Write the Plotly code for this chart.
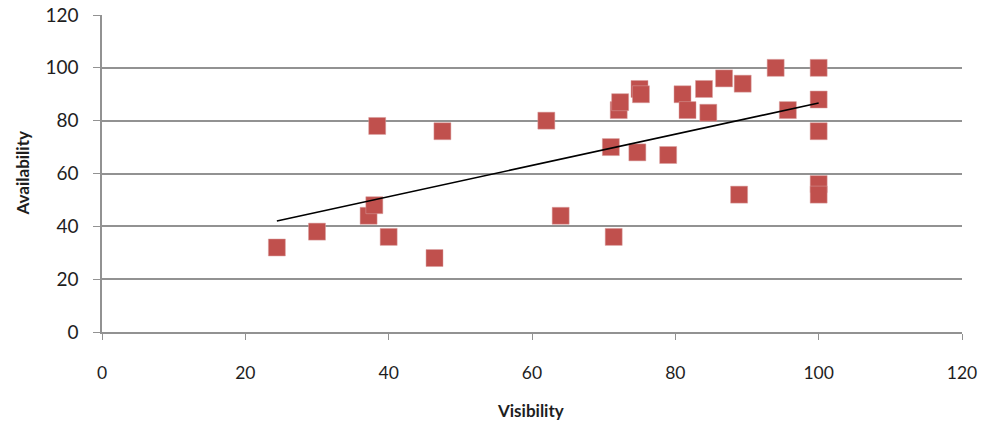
import numpy as np
import plotly.graph_objects as go

visibility = [24.4, 30.0, 37.2, 38.0, 38.4, 40.0, 46.4, 47.5,
              62.0, 64.0, 71.0, 71.4, 72.1, 72.3, 74.7, 75.0, 75.2,
              79.0, 81.0, 81.7, 84.0, 84.6, 86.8, 88.9, 89.4,
              94.0, 95.7, 100.0, 100.0, 100.0, 100.0, 100.0]
availability = [32, 38, 44, 48, 78, 36, 28, 76,
                80, 44, 70, 36, 84, 87, 68, 92, 90,
                67, 90, 84, 92, 83, 96, 52, 94,
                100, 84, 100, 88, 76, 56, 52]

x_ticks = [0, 20, 40, 60, 80, 100, 120]
y_ticks = [0, 20, 40, 60, 80, 100, 120]

slope, intercept = np.polyfit(visibility, availability, 1)
tx = [min(visibility), max(visibility)]
ty = [slope * v + intercept for v in tx]

fig = go.Figure()
fig.add_trace(go.Scatter(
    x=visibility, y=availability, mode="markers",
    marker=dict(symbol="square", size=17, color="#C0504D",
                line=dict(width=0.5, color="#D8A0A0")),
    showlegend=False, hoverinfo="x+y"))
fig.add_trace(go.Scatter(
    x=tx, y=ty, mode="lines", line=dict(color="black", width=1.6),
    showlegend=False, hoverinfo="skip"))

font_family = "Lato, 'Open Sans', sans-serif"
axis_gray = "#929292"
fig.update_layout(
    width=981, height=424,
    margin=dict(l=102, r=19, t=15, b=92),
    plot_bgcolor="white", paper_bgcolor="white",
    font=dict(family=font_family, size=18, color="#1E1E1E"),
    xaxis=dict(range=[0, 120], tickvals=x_ticks, ticktext=[str(v) for v in x_ticks],
               automargin=False,
               showgrid=False, zeroline=False, showline=True, linecolor=axis_gray,
               linewidth=1.5, ticks="outside", ticklen=6, tickcolor=axis_gray,
               tickwidth=1.3, ticklabelstandoff=18, tickfont=dict(size=17.5)),
    yaxis=dict(range=[0, 120], tickvals=y_ticks, ticktext=[str(v) for v in y_ticks],
               automargin=False,
               showgrid=True, gridcolor=axis_gray, gridwidth=1.5, zeroline=False,
               showline=True, linecolor=axis_gray, linewidth=1.5,
               ticks="outside", ticklen=7, tickcolor=axis_gray, tickwidth=1.3,
               ticklabelstandoff=11, tickfont=dict(size=19)),
    annotations=[
        dict(text="<b>Visibility</b>", xref="paper", yref="paper",
             x=0.4988, y=-0.249, xanchor="center", yanchor="middle",
             showarrow=False, font=dict(size=17, color="#1E1E1E")),
        dict(text="<b>Availability</b>", xref="paper", yref="paper",
             x=-0.093, y=0.5, xanchor="center", yanchor="middle", textangle=-90,
             showarrow=False, font=dict(size=17, color="#1E1E1E")),
    ],
)

fig.write_html("out.html", config={"displayModeBar": False},
               post_script="document.body.style.margin='0';document.body.style.overflow='hidden';")
